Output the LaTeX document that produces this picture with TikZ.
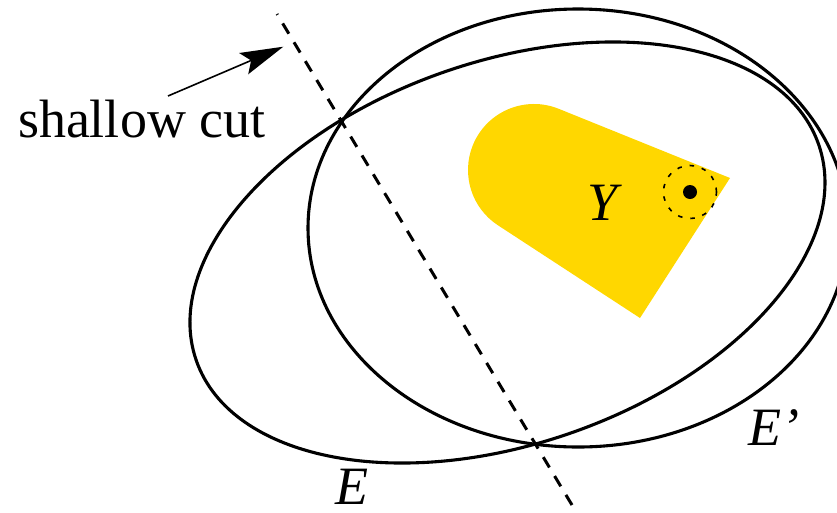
\documentclass[tikz,border=0pt]{standalone}
\usepackage{fontspec}
\setmainfont{Liberation Serif}
\usetikzlibrary{arrows.meta,calc}
\definecolor{ygold}{RGB}{255,215,0}
\tikzset{
  ell/.style={line width=3.1pt},
  cutline/.style={line width=3pt, dash pattern=on 12pt off 10pt, dash phase=11pt},
  ballline/.style={line width=1.6pt, dash pattern=on 4.5pt off 8pt},
  lbl/.style={inner sep=0pt, outer sep=0pt, anchor=base west, font=\fontsize{54}{60}\selectfont},
  pointer/.style={line width=1.6pt, -{Stealth[length=43pt,width=23pt,inset=8pt]}}
}
\begin{document}
\begin{tikzpicture}[x=1pt,y=1pt]
\useasboundingbox (0,-512) rectangle (837,0);
\clip (0,-512) rectangle (837,0);
% set Y
\coordinate (yc) at (534,-170);
\coordinate (ytipA) at (730,-178);
\coordinate (ytipB) at (640,-318);
\fill[ygold] (ytipA) -- ($(yc)+(68:66)$) arc[start angle=68,end angle=236.9,radius=66] -- (ytipB) -- cycle;
% ball
\coordinate (bc) at (690,-192);
\fill (bc) circle (7);
\draw[ballline] (bc) circle (26.5);
% ellipses
\coordinate (ecen) at (507.5,-252.5);
\coordinate (epcen) at (578,-228);
\draw[ell, rotate around={19.12:(ecen)}] (ecen) ellipse [x radius=329.4, y radius=191.3];
\draw[ell] (epcen) ellipse [x radius=270, y radius=219];
% cut
\coordinate (cutA) at (277,-14);
\coordinate (cutB) at (572,-505);
\draw[cutline] (cutA) -- (cutB);
% labels
\node[lbl] (cutlabel) at (18,-137) {shallow cut};
\coordinate (arrtail) at (168,-96);
\coordinate (arrtip) at (283.3,-46.7);
\draw[pointer] (arrtail) -- (arrtip);
\node[lbl] (labelE) at (335,-504) {\textit{E}};
\node[lbl] (labelEp) at (748,-445) {\textit{E’}};
\node[lbl] (labelY) at (587,-220) {\textit{Y}};
\end{tikzpicture}
\end{document}
